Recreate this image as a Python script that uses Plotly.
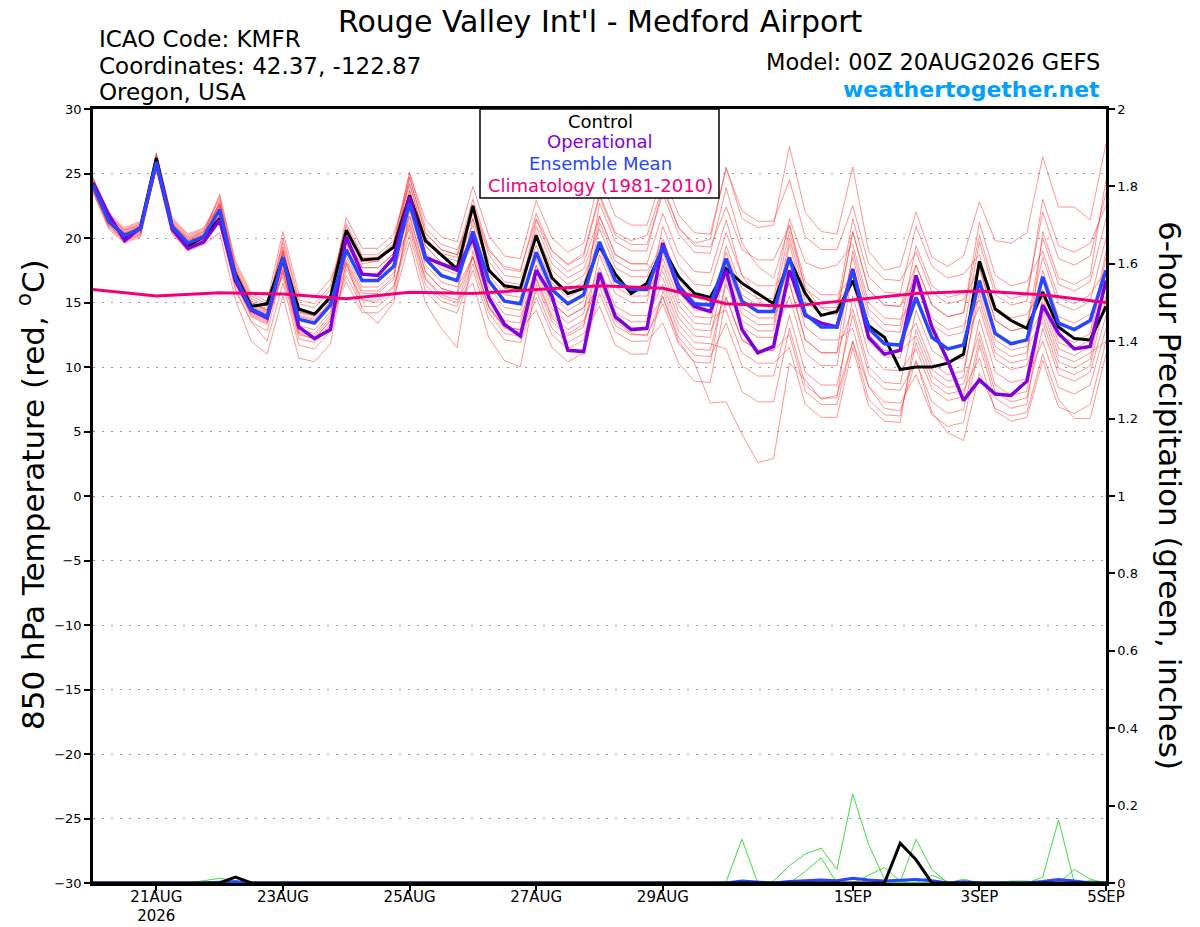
import plotly.graph_objects as go
from datetime import datetime, timedelta

# 6-hourly GEFS run, 00Z 20AUG2026 -> 00Z 5SEP2026
start = datetime(2026, 8, 20, 0)
n_steps = 65

tick_dates = ["2026-08-21", "2026-08-23", "2026-08-25", "2026-08-27",
              "2026-08-29", "2026-09-01", "2026-09-03", "2026-09-05"]
tick_text = ["21AUG<br>2026", "23AUG", "25AUG", "27AUG", "29AUG", "1SEP", "3SEP", "5SEP"]

# 850 hPa temperature (C)
control = [24.2, 21.3, 20.1, 20.8, 26.2, 20.9, 19.4, 20.1, 21.5, 17.2, 14.7, 14.9,
           18.5, 14.5, 14.1, 15.4, 20.6, 18.3, 18.4, 19.3, 23.3, 19.8, 18.7, 17.6,
           22.5, 17.5, 16.3, 16.1, 20.2, 16.9, 15.7, 16.1, 19.4, 17.2, 15.7, 16.5,
           19.2, 17.0, 15.7, 15.4, 17.6, 16.5, 15.7, 14.9, 18.4, 15.7, 14.0, 14.3,
           16.7, 13.2, 12.3, 9.8, 10.0, 10.0, 10.3, 11.0, 18.2, 14.5, 13.6, 13.0,
           15.8, 13.1, 12.2, 12.1, 14.7]
operational = [24.3, 21.8, 19.8, 20.8, 25.8, 20.7, 19.2, 19.7, 21.4, 16.7, 14.4, 13.8,
               18.5, 13.1, 12.2, 12.9, 20.1, 17.2, 17.1, 18.5, 23.2, 18.5, 18.0, 17.5,
               20.0, 15.4, 13.3, 12.4, 17.5, 15.5, 11.3, 11.2, 17.3, 13.9, 12.9, 13.0,
               19.6, 16.0, 14.7, 14.3, 17.5, 12.9, 11.1, 11.6, 17.5, 14.0, 13.4, 13.1,
               17.6, 12.3, 11.0, 11.3, 17.1, 13.1, 10.5, 7.4, 9.0, 7.9, 7.8, 8.9,
               14.8, 12.6, 11.4, 11.6, 16.7]
ens_mean = [24.1, 21.3, 20.2, 20.7, 25.9, 20.9, 19.6, 20.1, 22.2, 17.0, 14.5, 13.9,
            18.5, 13.7, 13.4, 14.8, 19.1, 16.7, 16.7, 17.8, 22.7, 18.4, 17.1, 16.7,
            20.5, 16.7, 15.1, 14.9, 18.9, 16.0, 14.9, 15.6, 19.7, 16.7, 16.0, 16.0,
            19.4, 16.3, 14.9, 14.8, 18.4, 15.1, 14.3, 14.3, 18.5, 14.1, 13.1, 13.1,
            17.5, 13.0, 11.8, 11.7, 15.4, 12.3, 11.4, 11.7, 16.7, 12.6, 11.8, 12.1,
            17.0, 13.4, 12.9, 13.6, 17.5]
# daily climatology (1981-2010), one value per 00Z
climo = [16.0, 15.5, 15.75, 15.65, 15.3, 15.8, 15.7, 16.0, 16.3, 16.1, 14.9, 14.7,
         15.2, 15.7, 15.9, 15.6, 15.0]

# ensemble members
mem01 = [24.4, 21.6, 20.6, 21.0, 26.3, 21.2, 19.9, 20.5, 22.6, 17.6, 15.0, 14.4,
         19.0, 14.3, 14.0, 15.4, 19.8, 18.0, 18.2, 19.3, 24.2, 20.0, 18.8, 18.5,
         22.6, 19.0, 17.8, 17.5, 21.5, 19.0, 18.0, 18.8, 23.4, 20.4, 19.8, 20.2,
         24.0, 20.8, 19.6, 19.9, 25.5, 21.5, 20.8, 21.0, 27.1, 22.0, 20.5, 20.3,
         25.5, 19.0, 17.5, 17.8, 22.0, 18.5, 17.8, 18.6, 22.8, 19.8, 19.6, 20.4,
         26.3, 22.4, 22.4, 21.4, 27.3]
mem02 = [23.8, 21.0, 19.8, 20.3, 25.6, 20.5, 19.2, 19.6, 21.7, 16.0, 13.5, 12.8,
         17.5, 12.6, 12.2, 13.6, 18.0, 15.2, 15.0, 16.2, 21.0, 16.8, 15.4, 15.0,
         18.6, 14.6, 13.0, 12.7, 16.8, 13.8, 12.6, 13.3, 17.2, 13.6, 12.6, 12.4,
         15.5, 12.0, 10.3, 7.2, 7.3, 4.8, 2.6, 2.9, 10.3, 9.0, 7.5, 7.8,
         12.0, 8.5, 6.8, 6.6, 10.5, 6.5, 4.9, 4.3, 9.5, 6.8, 6.2, 6.5,
         11.0, 7.5, 6.0, 6.0, 11.0]
mem03 = [24.5, 21.7, 20.6, 21.1, 26.4, 21.4, 20.1, 20.6, 23.0, 17.8, 15.3, 14.7,
         19.7, 14.9, 14.6, 16.0, 20.6, 18.2, 18.2, 19.3, 24.7, 20.4, 19.1, 18.7,
         23.0, 19.2, 17.6, 17.4, 21.9, 19.0, 17.9, 18.6, 23.2, 20.2, 19.5, 19.5,
         23.4, 20.3, 18.9, 18.8, 23.9, 19.6, 17.8, 16.9, 21.0, 16.1, 14.6, 14.1,
         20.5, 16.0, 14.8, 14.7, 17.9, 14.8, 13.9, 14.2, 20.2, 16.1, 15.3, 15.6,
         22.0, 18.4, 17.9, 18.6, 23.5]
mem04 = [23.6, 20.8, 19.7, 20.2, 25.5, 20.5, 19.2, 19.7, 21.2, 16.0, 13.5, 12.0,
         16.5, 11.7, 11.4, 12.8, 17.6, 15.2, 15.2, 16.3, 20.2, 15.9, 14.6, 14.2,
         17.5, 13.7, 12.1, 11.9, 15.4, 12.5, 11.4, 12.1, 17.2, 14.2, 13.5, 13.5,
         15.4, 12.3, 10.9, 10.8, 13.4, 10.1, 9.3, 9.3, 14.0, 9.6, 8.6, 8.6,
         14.0, 9.5, 8.3, 8.2, 10.4, 7.3, 6.4, 6.7, 12.2, 8.1, 7.3, 7.6,
         13.0, 9.4, 8.9, 9.6, 14.0]
mem05 = [24.3, 21.5, 20.4, 20.9, 26.2, 21.2, 19.9, 20.4, 22.7, 17.5, 15.0, 14.4,
         18.0, 13.2, 12.9, 14.3, 20.1, 17.7, 17.7, 18.8, 23.2, 18.9, 17.6, 17.2,
         19.5, 15.7, 14.1, 13.9, 16.9, 14.0, 12.9, 13.6, 16.7, 13.7, 13.0, 13.0,
         17.9, 14.8, 13.4, 13.3, 19.4, 16.1, 15.3, 15.3, 21.5, 18.1, 17.6, 17.9,
         19.5, 15.0, 13.8, 13.7, 15.4, 12.3, 11.4, 11.7, 14.7, 10.6, 9.8, 10.1,
         14.0, 10.4, 9.9, 10.6, 16.5]
mem06 = [23.9, 21.1, 20.0, 20.5, 25.9, 20.9, 19.6, 20.1, 21.9, 16.7, 14.2, 13.6,
         19.0, 14.2, 13.9, 15.3, 19.1, 16.7, 16.7, 17.8, 23.7, 19.4, 18.1, 17.7,
         22.0, 18.2, 16.6, 16.4, 19.4, 16.5, 15.4, 16.1, 21.7, 18.7, 18.0, 18.0,
         21.9, 18.8, 17.4, 17.3, 21.4, 17.1, 15.3, 14.3, 16.5, 12.1, 11.1, 11.1,
         14.5, 10.0, 8.8, 8.7, 14.4, 11.3, 10.4, 10.7, 17.7, 13.6, 12.8, 13.1,
         20.0, 16.4, 15.9, 16.6, 21.5]
mem07 = [24.7, 21.9, 20.8, 21.3, 26.5, 21.5, 20.2, 20.7, 23.2, 18.0, 15.5, 14.9,
         19.3, 14.5, 14.2, 15.6, 21.6, 19.2, 19.2, 20.3, 24.2, 19.9, 18.6, 18.2,
         21.0, 17.2, 15.6, 15.4, 20.4, 17.5, 16.4, 17.1, 19.7, 16.7, 16.0, 16.0,
         17.4, 14.3, 12.9, 12.8, 15.4, 12.1, 11.3, 11.3, 18.5, 14.1, 13.1, 13.1,
         18.5, 14.0, 12.8, 12.7, 17.9, 14.8, 13.9, 14.2, 21.2, 17.1, 16.3, 16.6,
         19.0, 15.4, 14.9, 15.6, 17.5]
mem08 = [23.8, 21.0, 19.9, 20.4, 25.3, 20.3, 19.0, 19.5, 20.4, 15.2, 12.0, 11.0,
         15.5, 10.7, 10.4, 11.8, 18.1, 14.5, 13.4, 15.0, 22.2, 17.9, 16.6, 16.2,
         18.5, 14.7, 13.1, 12.9, 14.4, 11.5, 10.4, 11.1, 15.7, 12.7, 12.0, 12.0,
         13.4, 10.3, 8.9, 8.8, 15.4, 12.1, 11.3, 11.3, 12.5, 8.1, 7.1, 7.1,
         12.0, 7.5, 6.3, 6.2, 11.9, 8.8, 7.9, 8.2, 10.7, 6.6, 5.8, 6.1,
         10.5, 6.9, 6.4, 7.1, 12.0]
mem09 = [24.2, 21.4, 20.3, 20.8, 26.1, 21.1, 19.8, 20.3, 22.5, 17.3, 14.8, 14.2,
         18.8, 14.0, 13.7, 15.1, 19.6, 17.2, 17.2, 18.3, 21.7, 17.4, 16.1, 15.7,
         21.5, 17.7, 16.1, 15.9, 20.9, 18.0, 16.9, 17.6, 20.7, 17.7, 17.0, 17.0,
         19.9, 16.8, 15.4, 15.3, 17.4, 14.1, 13.3, 13.3, 20.0, 15.6, 14.6, 14.6,
         21.5, 17.0, 15.8, 15.7, 20.9, 17.8, 16.9, 17.2, 18.7, 14.6, 13.8, 14.1,
         16.0, 12.4, 11.9, 12.6, 19.0]
mem10 = [24.0, 21.2, 20.1, 20.6, 26.0, 21.0, 19.7, 20.2, 21.7, 16.5, 14.0, 13.4,
         17.5, 12.7, 12.4, 13.8, 16.6, 14.2, 14.2, 15.3, 19.7, 15.0, 13.0, 11.5,
         19.0, 15.2, 13.6, 13.4, 17.9, 15.0, 13.9, 14.6, 17.7, 14.7, 14.0, 14.0,
         16.4, 13.3, 11.9, 11.8, 11.4, 8.1, 7.3, 7.3, 13.0, 8.6, 7.6, 7.6,
         15.5, 11.0, 9.8, 9.7, 11.4, 8.3, 7.4, 7.7, 13.7, 9.6, 8.8, 9.1,
         12.0, 8.4, 7.9, 8.6, 13.0]
mem11 = [24.4, 21.6, 20.5, 21.0, 25.7, 20.7, 19.4, 19.9, 22.4, 17.2, 14.7, 14.1,
         20.0, 15.2, 14.9, 16.3, 21.1, 18.7, 18.7, 19.8, 25.0, 21.4, 20.1, 19.7,
         24.0, 20.2, 18.6, 18.4, 22.9, 20.0, 18.9, 19.6, 24.7, 21.7, 21.0, 21.0,
         24.9, 21.8, 20.4, 20.3, 25.4, 22.1, 21.3, 21.3, 24.5, 20.1, 19.1, 19.1,
         22.5, 18.0, 16.8, 16.7, 18.9, 15.8, 14.9, 15.2, 17.7, 13.6, 12.8, 13.1,
         18.5, 14.9, 14.4, 15.1, 20.0]
mem12 = [23.7, 20.9, 19.8, 20.3, 25.7, 20.7, 19.4, 19.9, 22.8, 17.6, 15.1, 14.5,
         17.0, 12.2, 11.9, 13.3, 18.6, 16.2, 16.2, 17.3, 21.2, 16.9, 15.6, 15.2,
         16.5, 12.3, 10.5, 10.0, 16.4, 13.5, 12.4, 13.1, 18.7, 15.7, 15.0, 15.0,
         20.9, 17.8, 16.4, 16.3, 20.4, 17.1, 16.3, 16.3, 17.5, 13.1, 12.1, 12.1,
         13.0, 8.5, 7.3, 7.2, 9.4, 6.3, 5.4, 5.7, 11.7, 7.6, 6.8, 7.1,
         15.0, 11.4, 10.9, 11.6, 15.0]
mem13 = [24.1, 21.3, 20.2, 20.7, 26.3, 21.3, 20.0, 20.5, 22.0, 16.8, 14.3, 13.7,
         17.7, 12.9, 12.6, 14.0, 20.1, 17.7, 17.7, 18.8, 24.7, 20.4, 19.1, 18.7,
         20.0, 16.2, 14.6, 14.4, 17.4, 14.5, 13.4, 14.1, 21.2, 18.2, 17.5, 17.5,
         18.9, 15.8, 14.4, 14.3, 18.9, 15.6, 14.8, 14.8, 20.5, 16.1, 15.1, 15.1,
         16.5, 12.0, 10.8, 10.7, 16.4, 13.3, 12.4, 12.7, 19.7, 15.6, 14.8, 15.1,
         23.0, 19.4, 18.9, 19.6, 22.5]
mem14 = [24.6, 21.8, 20.7, 21.2, 26.1, 21.1, 19.8, 20.3, 23.4, 18.2, 15.7, 15.1,
         20.5, 15.7, 15.4, 16.8, 19.6, 17.2, 17.2, 18.3, 20.7, 16.4, 15.1, 14.7,
         18.0, 14.2, 12.6, 12.4, 15.9, 13.0, 11.9, 12.6, 14.7, 11.7, 11.0, 11.0,
         15.9, 12.8, 11.4, 11.3, 16.4, 13.1, 12.3, 12.3, 15.5, 11.1, 10.1, 10.1,
         17.5, 13.0, 11.8, 11.7, 13.4, 10.3, 9.4, 9.7, 15.7, 11.6, 10.8, 11.1,
         17.5, 13.9, 13.4, 14.1, 16.5]
mem15 = [23.5, 20.7, 19.6, 20.1, 25.4, 20.4, 19.1, 19.6, 21.6, 16.4, 13.9, 13.3,
         18.5, 13.7, 13.4, 14.8, 18.3, 15.9, 15.9, 17.0, 22.7, 18.4, 17.1, 16.7,
         22.5, 18.7, 17.1, 16.9, 19.9, 17.0, 15.9, 16.6, 19.2, 16.2, 15.5, 15.5,
         18.4, 15.3, 13.9, 13.8, 14.4, 11.1, 10.3, 10.3, 11.5, 7.1, 6.1, 6.1,
         11.5, 7.0, 5.8, 5.7, 12.9, 9.8, 8.9, 9.2, 16.7, 12.6, 11.8, 12.1,
         14.5, 10.9, 10.4, 11.1, 12.0]
mem16 = [24.3, 21.5, 20.4, 20.9, 26.6, 21.6, 20.3, 20.8, 22.6, 17.4, 14.9, 14.3,
         19.1, 14.3, 14.0, 15.4, 18.1, 15.7, 15.7, 16.8, 23.7, 19.4, 18.1, 17.7,
         20.5, 16.7, 15.1, 14.9, 18.4, 15.5, 14.4, 15.1, 22.7, 19.7, 19.0, 19.0,
         23.9, 20.8, 19.4, 19.3, 22.4, 19.1, 18.3, 18.3, 21.0, 16.6, 15.6, 15.6,
         17.0, 12.5, 11.3, 11.2, 12.4, 9.3, 8.4, 8.7, 12.7, 8.6, 7.8, 8.1,
         15.5, 11.9, 11.4, 12.1, 18.5]
mem17 = [23.9, 21.1, 20.0, 20.5, 25.6, 20.6, 19.3, 19.8, 21.8, 16.6, 14.1, 13.5,
         17.3, 12.5, 12.2, 13.6, 17.1, 14.7, 14.7, 15.8, 21.7, 17.4, 16.1, 15.7,
         18.5, 14.7, 13.1, 12.9, 17.9, 15.0, 13.9, 14.6, 16.2, 13.2, 12.5, 12.5,
         14.9, 11.8, 10.4, 10.3, 16.9, 13.6, 12.8, 12.8, 19.5, 15.1, 14.1, 14.1,
         20.5, 16.0, 14.8, 14.7, 16.9, 13.8, 12.9, 13.2, 15.2, 11.1, 10.3, 10.6,
         20.5, 16.9, 16.4, 17.1, 24.5]
mem18 = [24.2, 21.4, 20.3, 20.8, 25.8, 20.8, 19.5, 20.0, 22.3, 17.1, 14.6, 14.0,
         18.7, 13.9, 13.6, 15.0, 20.9, 18.5, 18.5, 19.6, 25.1, 20.8, 19.5, 19.1,
         21.5, 17.7, 16.1, 15.9, 21.4, 18.5, 17.4, 18.1, 21.7, 18.7, 18.0, 18.0,
         16.9, 13.8, 12.4, 12.3, 17.9, 14.6, 13.8, 13.8, 16.5, 12.1, 11.1, 11.1,
         19.0, 14.5, 13.3, 13.2, 19.4, 16.3, 15.4, 15.7, 16.2, 12.1, 11.3, 11.6,
         13.5, 9.9, 9.4, 10.1, 15.5]

# 6-hour precipitation (inches), step index -> value, zero elsewhere
pcp_ctrl = {9: 0.015, 51: 0.103, 52: 0.06}
pcp_mean = {8: 0.002, 9: 0.003, 41: 0.005, 42: 0.003, 44: 0.004, 45: 0.006, 46: 0.008,
            47: 0.006, 48: 0.012, 49: 0.008, 50: 0.005, 51: 0.007, 52: 0.009, 53: 0.006,
            55: 0.003, 60: 0.004, 61: 0.009, 62: 0.005}
pcp_g01 = {43: 0.005, 44: 0.045, 45: 0.075, 46: 0.09, 47: 0.035, 48: 0.23, 49: 0.1, 50: 0.01}
pcp_g02 = {45: 0.03, 46: 0.065}
pcp_g03 = {40: 0.003, 41: 0.113}
pcp_g04 = {51: 0.003, 52: 0.113, 53: 0.035}
pcp_g05 = {49: 0.02, 50: 0.04, 51: 0.005}
pcp_g06 = {60: 0.015, 61: 0.163}
pcp_g07 = {62: 0.035, 63: 0.01}
pcp_g08 = {7: 0.006, 8: 0.012, 9: 0.006, 55: 0.01, 58: 0.005, 59: 0.005}
pcp_g09 = {37: 0.003, 53: 0.02, 54: 0.004, 63: 0.006}

times = [start + timedelta(hours=6 * i) for i in range(n_steps)]
climo_times = [start + timedelta(days=d) for d in range(len(climo))]
members = [mem01, mem02, mem03, mem04, mem05, mem06, mem07, mem08, mem09,
           mem10, mem11, mem12, mem13, mem14, mem15, mem16, mem17, mem18]
green = [pcp_g01, pcp_g02, pcp_g03, pcp_g04, pcp_g05, pcp_g06, pcp_g07, pcp_g08, pcp_g09]


def expand(d):
    return [d.get(i, 0.0) for i in range(n_steps)]


FONT = "DejaVu Sans"
C_PURPLE = "#8200dc"
C_BLUE = "#2846ff"
C_PINK = "#f0007f"

fig = go.Figure()

for m in members:
    fig.add_trace(go.Scatter(x=times, y=m, mode="lines",
                             line=dict(color="rgba(255,50,50,0.65)", width=0.8),
                             hoverinfo="skip"))
for g in green:
    fig.add_trace(go.Scatter(x=times, y=expand(g), mode="lines", yaxis="y2",
                             line=dict(color="#40dc40", width=1),
                             hoverinfo="skip"))

fig.add_trace(go.Scatter(x=times, y=expand(pcp_mean), mode="lines", yaxis="y2",
                         line=dict(color=C_BLUE, width=3)))
fig.add_trace(go.Scatter(x=times, y=expand(pcp_ctrl), mode="lines", yaxis="y2",
                         line=dict(color="black", width=3)))
fig.add_trace(go.Scatter(x=times, y=control, mode="lines", line=dict(color="black", width=3)))
fig.add_trace(go.Scatter(x=times, y=operational, mode="lines", line=dict(color=C_PURPLE, width=3.5)))
fig.add_trace(go.Scatter(x=times, y=ens_mean, mode="lines", line=dict(color=C_BLUE, width=3.5)))
fig.add_trace(go.Scatter(x=climo_times, y=climo, mode="lines", line=dict(color=C_PINK, width=3)))

# the page body adds an 8px offset; figure is 1192x919 so that the
# plot area lands at page x 93..1106, y 109..883
W, H = 1192, 919
L, T = 85, 101
PW, PH = 1013, 774


def px(x):
    return (x - 93) / PW


def py(y):
    return (883 - y) / PH


annotations = [
    dict(text="Rouge Valley Int'l - Medford Airport", x=px(600), y=py(21),
         xanchor="center", yanchor="middle", font=dict(size=30)),
    dict(text="ICAO Code: KMFR", x=px(97), y=py(39), xanchor="left", yanchor="middle",
         font=dict(size=23)),
    dict(text="Coordinates: 42.37, -122.87", x=px(97), y=py(66), xanchor="left",
         yanchor="middle", font=dict(size=23)),
    dict(text="Oregon, USA", x=px(97), y=py(92), xanchor="left", yanchor="middle",
         font=dict(size=23)),
    dict(text="Model: 00Z 20AUG2026 GEFS", x=px(1102), y=py(62), xanchor="right",
         yanchor="middle", font=dict(size=22.5)),
    dict(text="<b>weathertogether.net</b>", x=px(1102), y=py(89), xanchor="right",
         yanchor="middle", font=dict(size=22, color="#00a0ff")),
    dict(text="850 hPa Temperature (red, <sup>o</sup>C)", x=px(31), y=py(495),
         textangle=-90, xanchor="center", yanchor="middle", font=dict(size=31)),
    dict(text="6-hour Precipitation (green, inches)", x=px(1170), y=py(495),
         textangle=90, xanchor="center", yanchor="middle", font=dict(size=31)),
    # legend box text
    dict(text="Control", x=px(600), y=py(121), xanchor="center", yanchor="middle",
         font=dict(size=18, color="black")),
    dict(text="Operational", x=px(600), y=py(142), xanchor="center", yanchor="middle",
         font=dict(size=18, color=C_PURPLE)),
    dict(text="Ensemble Mean", x=px(600), y=py(163), xanchor="center", yanchor="middle",
         font=dict(size=18, color=C_BLUE)),
    dict(text="Climatology (1981-2010)", x=px(600), y=py(185), xanchor="center",
         yanchor="middle", font=dict(size=18, color=C_PINK)),
]
for a in annotations:
    a.update(xref="paper", yref="paper", showarrow=False)

fig.update_layout(
    width=W, height=H,
    margin=dict(l=L, r=W - L - PW, t=T, b=H - T - PH, autoexpand=False),
    paper_bgcolor="white", plot_bgcolor="white",
    showlegend=False,
    font=dict(family=FONT, color="black"),
    annotations=annotations,
    shapes=[dict(type="rect", xref="paper", yref="paper",
                 x0=px(480), x1=px(719), y0=py(198), y1=1,
                 line=dict(color="black", width=1.5), fillcolor="white", layer="above")],
    xaxis=dict(type="date", range=[start, start + timedelta(days=16)],
               tickvals=tick_dates, ticktext=tick_text, ticks="outside", ticklen=5,
               tickwidth=1.5, tickcolor="black", showgrid=False, zeroline=False,
               showline=True, linewidth=2.5, linecolor="black", mirror=True,
               tickfont=dict(size=15), automargin=False, ticklabelstandoff=-7),
    yaxis=dict(range=[-30, 30], tickvals=list(range(-30, 31, 5)), ticks="outside",
               ticklen=6, tickwidth=1.5, tickcolor="black", showgrid=True,
               gridcolor="#9a9a9a", griddash="2px,7px", gridwidth=1, zeroline=False,
               showline=True, linewidth=2.5, linecolor="black", mirror=True,
               tickfont=dict(size=13), automargin=False),
    yaxis2=dict(range=[0, 2], overlaying="y", side="right",
                tickvals=[0, 0.2, 0.4, 0.6, 0.8, 1, 1.2, 1.4, 1.6, 1.8, 2],
                ticktext=["0", "0.2", "0.4", "0.6", "0.8", "1", "1.2", "1.4", "1.6", "1.8", "2"],
                ticks="outside", ticklen=6, tickwidth=1.5, tickcolor="black",
                showgrid=False, zeroline=False, showline=True, linewidth=2.5,
                linecolor="black", tickfont=dict(size=13), automargin=False),
)

fig.write_html("out.html")
